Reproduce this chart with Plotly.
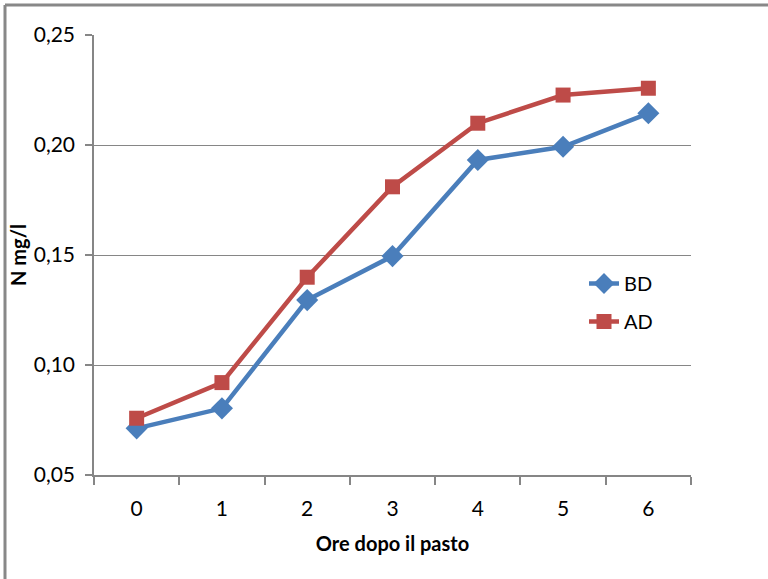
import plotly.graph_objects as go

hours = ["0", "1", "2", "3", "4", "5", "6"]
bd = [0.0712, 0.0803, 0.1295, 0.1495, 0.1932, 0.1992, 0.2144]
ad = [0.0758, 0.0920, 0.1399, 0.1810, 0.2099, 0.2227, 0.2258]
y_ticks = [0.05, 0.10, 0.15, 0.20, 0.25]

FONT = "Lato, Open Sans, sans-serif"
BLUE = "#4A7EBB"
RED = "#BE4B48"
GRID = "#868686"

fig = go.Figure()
fig.add_trace(go.Scatter(
    x=hours, y=bd, name="BD", mode="lines+markers", legendgroup="bd",
    line=dict(color=BLUE, width=4.5),
    marker=dict(symbol="diamond", size=17, color=BLUE),
))
fig.add_trace(go.Scatter(
    x=hours, y=ad, name="AD", mode="lines+markers", legendgroup="ad",
    line=dict(color=RED, width=4.5),
    marker=dict(symbol="square", size=15, color=RED),
))

# plot area: x 94..691, y 35..475 in a 768x579 page
L, R, T, B = 94, 691, 35, 475
W, H = R - L, B - T
def px(x):
    return (x - L) / W
def py(y):
    return (B - y) / H

fig.update_layout(
    width=768, height=579,
    margin=dict(l=L, r=768 - R, t=T, b=579 - B),
    paper_bgcolor="white", plot_bgcolor="white",
    separators=",.",
    font=dict(family=FONT, size=20, color="#000000"),
    showlegend=True,
    legend=dict(
        x=px(584), y=py(264), xanchor="left", yanchor="top",
        font=dict(family=FONT, size=20, color="#000000"),
        bgcolor="rgba(0,0,0,0)", tracegroupgap=9,
    ),
    xaxis=dict(
        type="category", range=[-0.5, 6.5],
        tickson="boundaries", ticks="outside", ticklen=8, tickcolor=GRID, tickwidth=1.5,
        showline=True, linecolor=GRID, linewidth=1.5,
        showgrid=False, zeroline=False,
        ticklabelstandoff=14,
        tickfont=dict(family=FONT, size=21),
        title=dict(text="<b>Ore dopo il pasto</b>", font=dict(family=FONT, size=20), standoff=18),
    ),
    yaxis=dict(
        range=[0.05, 0.25], tickvals=y_ticks, tickformat=".2f",
        ticks="outside", ticklen=7, tickcolor=GRID, tickwidth=1.5,
        showline=True, linecolor=GRID, linewidth=1.5,
        showgrid=True, gridcolor=GRID, gridwidth=1.2, zeroline=False,
        ticklabelstandoff=6,
        tickfont=dict(family=FONT, size=21),
        title=dict(text="<b>N mg/l</b>", font=dict(family=FONT, size=20), standoff=2),
    ),
    shapes=[
        dict(type="line", xref="paper", yref="paper",
             x0=px(5), x1=px(768), y0=py(5), y1=py(5),
             line=dict(color="#888888", width=3)),
        dict(type="line", xref="paper", yref="paper",
             x0=px(5), x1=px(5), y0=py(5), y1=py(579),
             line=dict(color="#888888", width=3)),
    ],
)

fig.write_html("out.html", config={"displayModeBar": False},
               post_script="document.body.style.margin='0px';")
